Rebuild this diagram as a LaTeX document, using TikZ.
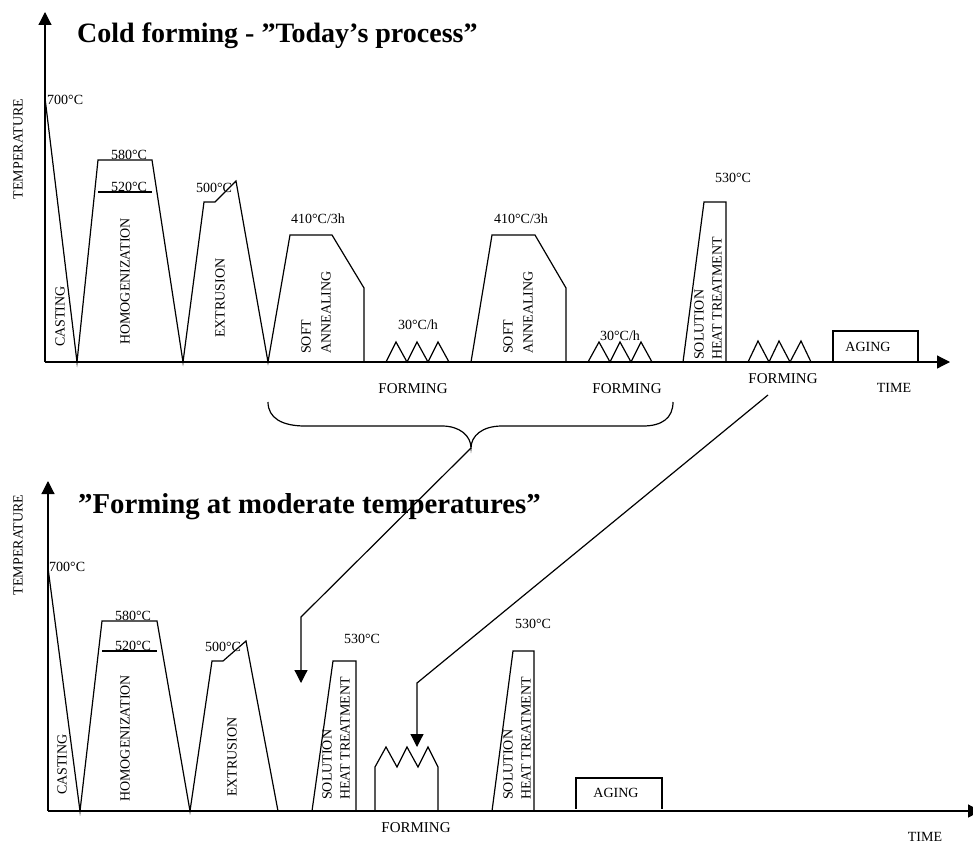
\documentclass[tikz,border=0pt]{standalone}
\usepackage{fontspec}
\setmainfont{Liberation Serif}
\usetikzlibrary{arrows.meta}
\newcommand\lblfont{\fontsize{14}{19}\selectfont}
\newcommand\formfont{\fontsize{15}{18}\selectfont}
\newcommand\titlefont{\fontsize{28}{32}\selectfont\bfseries}
\newcommand\titlefontb{\fontsize{28.8}{32}\selectfont\bfseries}
\tikzset{
  prof/.style={line width=1.2pt, line join=miter},
  lbl/.style={font=\lblfont, inner sep=0pt},
  flbl/.style={font=\formfont, inner sep=0pt},
  vlbl/.style={font=\lblfont, inner sep=0pt, rotate=90, anchor=west, align=left},
  ttl/.style={font=\titlefont, inner sep=0pt, anchor=base west},
  axisarrow/.style={line width=1.2pt, -{Triangle[length=13pt,width=13pt]}},
  linkarrow/.style={line width=1.2pt, line join=miter, -{Triangle[length=13pt,width=13pt]}}
}
\begin{document}
\begin{tikzpicture}[x=1pt,y=-1pt]
\useasboundingbox (0,0) rectangle (973,843);

% ===== TOP DIAGRAM =====
\coordinate (o1) at (45,362);
\coordinate (ytop1) at (45,12);
\coordinate (xend1) at (950,362);
\draw[axisarrow] (o1) -- (ytop1);
\draw[axisarrow] (o1) -- (xend1);
\node[ttl] (title1) at (77,42) {Cold forming - ”Today’s process”};
\node[lbl, rotate=90] (temp1) at (18,149) {TEMPERATURE};

\draw[prof] (45,98) -- (77,362) -- (98,160) -- (152,160) -- (183,362)
  -- (204,202) -- (215,202) -- (236,181) -- (268,362)
  -- (290,235) -- (332,235) -- (364,288) -- (364,362);
\draw[prof] (98,192) -- (152,192);
\draw[prof] (386,362) -- (396,342) -- (407,362) -- (417,342) -- (428,362) -- (438,342) -- (449,362);
\draw[prof] (471,362) -- (492,235) -- (535,235) -- (566,288) -- (566,362);
\draw[prof] (588,362) -- (599,342) -- (610,362) -- (620,342) -- (631,362) -- (641,342) -- (652,362);
\draw[prof] (683,362) -- (704,202) -- (726,202) -- (726,362);
\draw[prof] (748,362) -- (758,341) -- (769,362) -- (779,341) -- (790,362) -- (801,341) -- (811,362);
\draw[prof] (833,362) -- (833,331) -- (918,331) -- (918,362);

\node[lbl, anchor=west] (t700a) at (47,100) {700°C};
\node[lbl, anchor=base] (t580a) at (129,159) {580°C};
\node[lbl, anchor=base] (t520a) at (129,191) {520°C};
\node[lbl, anchor=base] (t500a) at (214,192) {500°C};
\node[lbl, anchor=base] (t410a) at (318,223) {410°C/3h};
\node[lbl, anchor=base] (t30a) at (418,329) {30°C/h};
\node[lbl, anchor=base] (t410b) at (521,223) {410°C/3h};
\node[lbl, anchor=base] (t30b) at (620,340) {30°C/h};
\node[lbl, anchor=base] (t530a) at (733,182) {530°C};

\node[vlbl] (cast1) at (60,347) {CASTING};
\node[vlbl] (homo1) at (125,345) {HOMOGENIZATION};
\node[vlbl] (extr1) at (220,338) {EXTRUSION};
\node[vlbl, font=\fontsize{14}{20}\selectfont] (soft1) at (316,354) {SOFT\\ANNEALING};
\node[vlbl, font=\fontsize{14}{20}\selectfont] (soft2) at (518,354) {SOFT\\ANNEALING};
\node[vlbl, font=\fontsize{14}{18}\selectfont] (sol1) at (708,360) {SOLUTION\\HEAT TREATMENT};
\node[lbl] (aging1) at (868,347) {AGING};

\node[flbl] (form1) at (413,389) {FORMING};
\node[flbl] (form2) at (627,389) {FORMING};
\node[flbl] (form3) at (783,379) {FORMING};
\node[lbl] (time1) at (894,388) {TIME};

% brace
\coordinate (braceL) at (268,402);
\coordinate (braceR) at (673,402);
\coordinate (braceTip) at (471,448);
\draw[prof] (braceL) .. controls (268,418) and (282,426) .. (305,426)
  -- (442,426) .. controls (460,426) and (471,436) .. (braceTip)
  .. controls (471,436) and (482,426) .. (502,426)
  -- (643,426) .. controls (662,426) and (673,418) .. (braceR);

% ===== BOTTOM DIAGRAM =====
\coordinate (o2) at (48,811);
\coordinate (ytop2) at (48,481);
\coordinate (xend2) at (981,811);
\draw[axisarrow] (o2) -- (ytop2);
\draw[axisarrow] (o2) -- (xend2);
\node[ttl, font=\titlefontb] (title2) at (78,513) {”Forming at moderate temperatures”};
\node[lbl, rotate=90] (temp2) at (18,545) {TEMPERATURE};

\draw[prof] (48,568) -- (80,811) -- (102,621) -- (157,621) -- (190,811)
  -- (212,661) -- (223,661) -- (246,641) -- (278,811);
\draw[prof] (102,651) -- (157,651);
\draw[prof] (312,811) -- (333,661) -- (356,661) -- (356,811);
\draw[prof] (375,811) -- (375,767) -- (386,747) -- (397,767) -- (407,747) -- (418,767) -- (428,747) -- (438,767) -- (438,811);
\draw[prof] (492,811) -- (513,651) -- (534,651) -- (534,811);
\draw[prof] (576,809) -- (576,778) -- (662,778) -- (662,809);

\node[lbl, anchor=west] (t700b) at (49,567) {700°C};
\node[lbl, anchor=base] (t580b) at (133,620) {580°C};
\node[lbl, anchor=base] (t520b) at (133,650) {520°C};
\node[lbl, anchor=base] (t500b) at (223,651) {500°C};
\node[lbl, anchor=base] (t530b) at (362,643) {530°C};
\node[lbl, anchor=base] (t530c) at (533,628) {530°C};

\node[vlbl] (cast2) at (62,795) {CASTING};
\node[vlbl] (homo2) at (125,802) {HOMOGENIZATION};
\node[vlbl] (extr2) at (232,797) {EXTRUSION};
\node[vlbl, font=\fontsize{14}{18}\selectfont] (sol2) at (336,800) {SOLUTION\\HEAT TREATMENT};
\node[vlbl, font=\fontsize{14}{18}\selectfont] (sol3) at (517,800) {SOLUTION\\HEAT TREATMENT};
\node[lbl] (aging2) at (616,793) {AGING};
\node[flbl] (form4) at (416,828) {FORMING};
\node[lbl] (time2) at (925,837) {TIME};

% ===== LINK ARROWS =====
\coordinate (bend1) at (301,617);
\coordinate (tip1) at (301,683);
\draw[linkarrow] (braceTip) -- (bend1) -- (tip1);
\coordinate (start2) at (768,395);
\coordinate (bend2) at (417,683);
\coordinate (tip2) at (417,747);
\draw[linkarrow] (start2) -- (bend2) -- (tip2);
\end{tikzpicture}
\end{document}
